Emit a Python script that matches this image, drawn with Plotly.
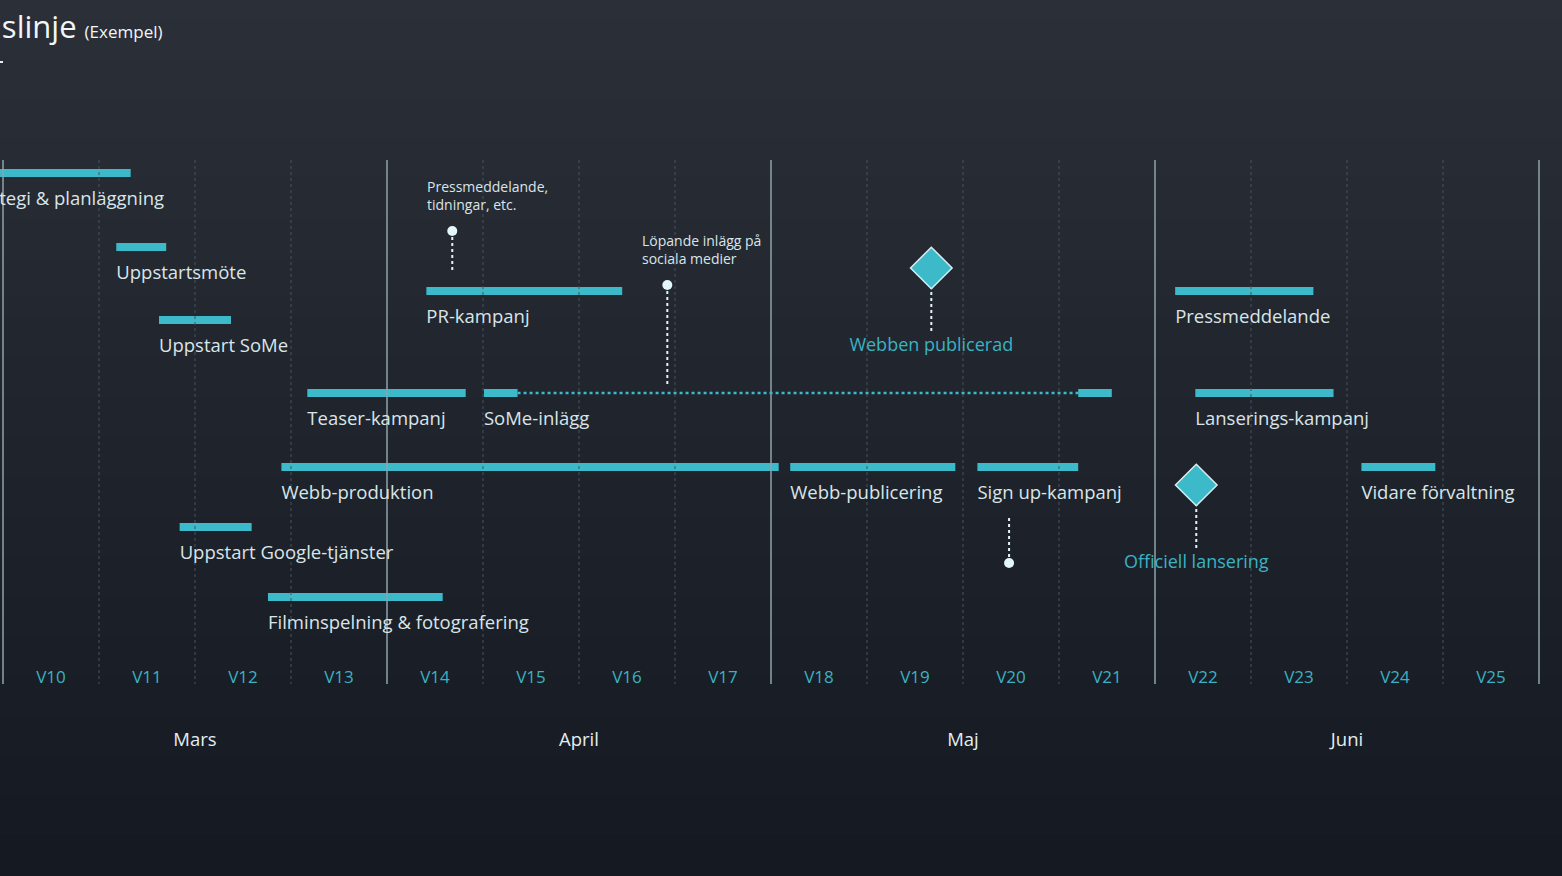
import plotly.graph_objects as go

# --- data (x in week numbers, lane positions) ---
tasks = ["Strategi & planläggning", "Uppstartsmöte", "Uppstart SoMe", "PR-kampanj",
         "Teaser-kampanj", "SoMe-inlägg", "", "Webb-produktion", "Webb-publicering",
         "Sign up-kampanj", "Uppstart Google-tjänster", "Filminspelning & fotografering",
         "Pressmeddelande", "Lanserings-kampanj", "Vidare förvaltning"]
task_start = [9.6, 11.18, 11.625, 14.41, 13.17, 15.01, 21.2, 12.9, 18.2,
              20.15, 11.84, 12.76, 22.21, 22.42, 24.15]
task_end = [11.33, 11.70, 12.375, 16.45, 14.82, 15.36, 21.55, 18.08, 19.92,
            21.2, 12.59, 14.58, 23.65, 23.86, 24.92]
task_lane = [173, 247, 320, 291, 393, 393, 393, 467, 467, 467, 527, 597, 291, 393, 467]

# SoMe-inlägg continues as a dotted line between its two segments
some_link_x = [15.36, 21.2]
some_link_lane = 393

milestones = ["Webben publicerad", "Officiell lansering"]
milestone_x = [19.67, 22.43]
milestone_lane = [268, 485]
milestone_label_lane = [346, 563]

pin_x = [14.68, 16.92, 20.48]
pin_lane = [231, 285, 563]
pin_stem_end = [272, 385, 515]
callouts = ["Pressmeddelande,<br>tidningar, etc.", "Löpande inlägg på<br>sociala medier"]
callout_x = [14.40, 16.64]
callout_lane = [175, 229]

weeks = [f"V{w}" for w in range(10, 26)]
week_start = list(range(10, 26))
months = ["Mars", "April", "Maj", "Juni"]
month_start = [10, 14, 18, 22]
month_len = 4

TEAL = "#3dbac9"
TEAL_TXT = "#3ab2c2"
LABEL = "#d9e5e9"
FONT = "Open Sans, Lato, sans-serif"
GRID_TOP, GRID_BOTTOM = 160, 684
PX_PER_WEEK = 96
HIDDEN_LEFT = 70  # the source image is cropped on the left; draw wider and shift

fig = go.Figure()

# week / month grid
dot_x, dot_y, solid_x, solid_y = [], [], [], []
for w in week_start + [26]:
    if (w - 10) % month_len == 0:
        solid_x += [w, w, None]
        solid_y += [GRID_TOP, GRID_BOTTOM, None]
    else:
        dot_x += [w, w, None]
        dot_y += [GRID_TOP, GRID_BOTTOM, None]
fig.add_trace(go.Scatter(x=dot_x, y=dot_y, mode="lines",
                         line=dict(color="#4b535d", width=1, dash="dot"), hoverinfo="skip"))
fig.add_trace(go.Scatter(x=solid_x, y=solid_y, mode="lines",
                         line=dict(color="#8fa3ab", width=1.5), hoverinfo="skip"))

# dotted link for SoMe-inlägg
fig.add_trace(go.Scatter(x=some_link_x, y=[some_link_lane] * 2, mode="lines",
                         line=dict(color=TEAL, width=2.5, dash="dot"), hoverinfo="skip"))

# task bars
fig.add_trace(go.Bar(
    y=task_lane, x=[e - s for s, e in zip(task_start, task_end)], base=task_start,
    orientation="h", width=8, marker=dict(color=TEAL, line=dict(width=0)),
    hovertext=tasks, hoverinfo="text",
))

# task labels below bars
fig.add_trace(go.Scatter(
    x=task_start, y=[l + 27 for l in task_lane], mode="text", text=tasks,
    textposition="middle right", cliponaxis=False,
    textfont=dict(family=FONT, size=18.5, color=LABEL), hoverinfo="skip",
))

# stems for milestones and pins
stem_x, stem_y = [], []
for x, l, ll in zip(milestone_x, milestone_lane, milestone_label_lane):
    stem_x += [x, x, None]
    stem_y += [l + 18, ll - 14, None]
for x, l, e in zip(pin_x, pin_lane, pin_stem_end):
    stem_x += [x, x, None]
    stem_y += [l, e, None]
fig.add_trace(go.Scatter(x=stem_x, y=stem_y, mode="lines",
                         line=dict(color="#e6f2f4", width=2, dash="dot"), hoverinfo="skip"))

# pins
fig.add_trace(go.Scatter(x=pin_x, y=pin_lane, mode="markers",
                         marker=dict(size=10, color="#e3f6f9"), hoverinfo="skip"))

# milestones
fig.add_trace(go.Scatter(
    x=milestone_x, y=milestone_lane, mode="markers",
    marker=dict(symbol="diamond", size=32, color=TEAL, line=dict(color="#d5eef2", width=1.5)),
    hovertext=milestones, hoverinfo="text",
))
fig.add_trace(go.Scatter(
    x=milestone_x, y=milestone_label_lane, mode="text", text=milestones,
    textposition="middle center", cliponaxis=False,
    textfont=dict(family=FONT, size=18, color=TEAL_TXT), hoverinfo="skip",
))

# callout notes
for txt, x, l in zip(callouts, callout_x, callout_lane):
    fig.add_annotation(x=x, y=l, text=txt, showarrow=False, xanchor="left", yanchor="top",
                       align="left", font=dict(family=FONT, size=14, color=LABEL))

# week and month labels
fig.add_trace(go.Scatter(
    x=[w + 0.5 for w in week_start], y=[679] * len(weeks), mode="text", text=weeks,
    textfont=dict(family=FONT, size=17, color=TEAL_TXT), hoverinfo="skip",
))
fig.add_trace(go.Scatter(
    x=[m + month_len / 2 for m in month_start], y=[741] * len(months), mode="text", text=months,
    textfont=dict(family=FONT, size=18.5, color="#e4eef1"), hoverinfo="skip",
))

W = 1562 + HIDDEN_LEFT

# title (its start lies in the cropped-away strip)
fig.add_annotation(
    xref="paper", yref="paper", x=(HIDDEN_LEFT - 44) / W, y=1 - 26 / 876,
    xanchor="left", yanchor="middle",
    text="Tidslinje <span style='font-size:17px'>(Exempel)</span>", showarrow=False,
    font=dict(family=FONT, size=31, color="#f2f6f8"),
)

# background gradient
top, bottom = (42, 47, 56), (21, 25, 33)
n_bands = 44
shapes = []
for i in range(n_bands):
    t = i / (n_bands - 1)
    c = tuple(round(a + (b - a) * t) for a, b in zip(top, bottom))
    shapes.append(dict(type="rect", xref="paper", yref="paper", x0=0, x1=1,
                       y0=1 - (i + 1) / n_bands, y1=1 - i / n_bands + 0.001,
                       fillcolor=f"rgb{c}", line=dict(width=0), layer="below"))
shapes.append(dict(type="line", xref="paper", yref="paper",
                   x0=(HIDDEN_LEFT - 30) / W, x1=(HIDDEN_LEFT + 3) / W,
                   y0=1 - 62 / 876, y1=1 - 62 / 876, line=dict(color="#e8eef0", width=2)))

x0 = 10 - (3 + HIDDEN_LEFT) / PX_PER_WEEK
fig.update_layout(
    width=W, height=876, margin=dict(l=0, r=0, t=0, b=0),
    paper_bgcolor="#1e232b", plot_bgcolor="rgba(0,0,0,0)",
    showlegend=False, shapes=shapes, barmode="overlay",
    xaxis=dict(range=[x0, x0 + W / PX_PER_WEEK], visible=False, fixedrange=True),
    yaxis=dict(range=[876, 0], visible=False, fixedrange=True),
)

fig.write_html(
    "out.html",
    config={"displayModeBar": False},
    post_script=(
        "document.body.style.margin='0px';"
        "document.body.style.overflow='hidden';"
        f"document.getElementById('{{plot_id}}').style.marginLeft='-{HIDDEN_LEFT}px';"
    ),
)
